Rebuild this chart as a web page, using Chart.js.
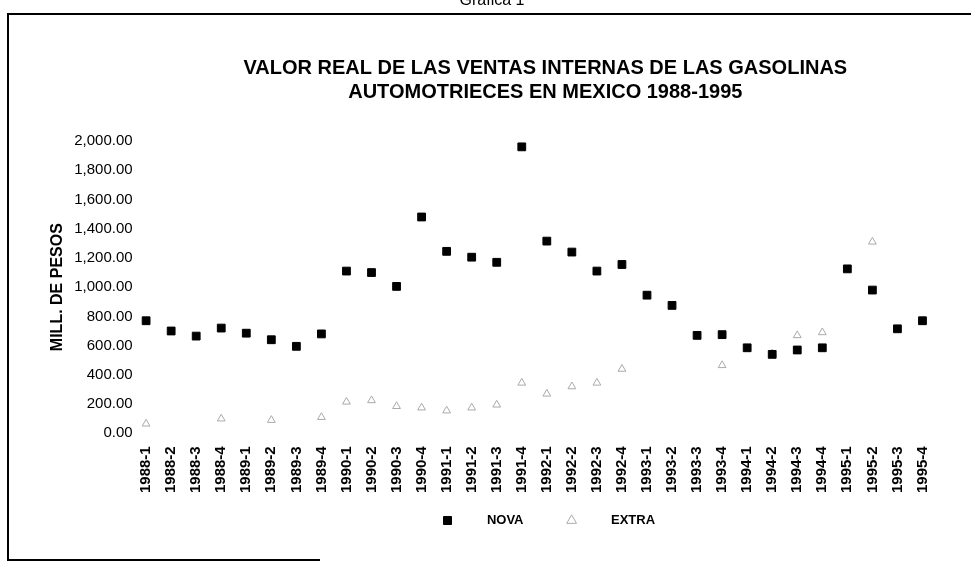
<!DOCTYPE html>
<html>
<head>
<meta charset="utf-8">
<script src="https://cdn.jsdelivr.net/npm/chart.js@4.4.1/dist/chart.umd.min.js"></script>
<style>
  body { margin: 0; background: #fff; }
  #wrap { position: relative; width: 971px; height: 565px; overflow: hidden; font-family: 'Liberation Sans', Arial, sans-serif; }
  #grafica { position: absolute; left: 0; top: 0; }
  #caption { position: absolute; left: 0; width: 984px; top: -9px; text-align: center; font-size: 16px; color: #000; }
  .edge { position: absolute; background: #000; }
</style>
</head>
<body>
<div id="wrap">
  <canvas id="grafica" width="971" height="565"></canvas>
  <div id="caption">Grafica 1</div>
  <div class="edge" style="left:7px;top:13px;width:964px;height:2px"></div>
  <div class="edge" style="left:7px;top:13px;width:2px;height:548px"></div>
  <div class="edge" style="left:7px;top:559px;width:313px;height:2px"></div>
</div>
<script>
// trimestres 1988-1995
const trimestres = [
  '1988-1', '1988-2', '1988-3', '1988-4', '1989-1', '1989-2', '1989-3', '1989-4',
  '1990-1', '1990-2', '1990-3', '1990-4', '1991-1', '1991-2', '1991-3', '1991-4',
  '1992-1', '1992-2', '1992-3', '1992-4', '1993-1', '1993-2', '1993-3', '1993-4',
  '1994-1', '1994-2', '1994-3', '1994-4', '1995-1', '1995-2', '1995-3', '1995-4'
];

// millones de pesos
const nova = [
  770, 700, 665, 720, 685, 640, 595, 680,
  1110, 1100, 1005, 1480, 1245, 1205, 1170, 1960,
  1315, 1240, 1110, 1155, 945, 875, 670, 675,
  585, 540, 570, 585, 1125, 980, 715, 770
];

// los triangulos que no se ven en la copia quedan en null
const extra = [
  65, null, null, 100, null, 90, null, 110,
  215, 225, 185, 175, 155, 175, 195, 345,
  270, 320, 345, 440, null, null, null, 465,
  null, 545, 670, 690, null, 1310, null, null
];

const yTicks = [0, 200, 400, 600, 800, 1000, 1200, 1400, 1600, 1800, 2000];

const titulo = [
  'VALOR REAL DE LAS VENTAS INTERNAS DE LAS GASOLINAS',
  'AUTOMOTRIECES EN MEXICO 1988-1995'
];

const fmt = new Intl.NumberFormat('en-US', { minimumFractionDigits: 2, maximumFractionDigits: 2 });

Chart.defaults.font.family = "'Liberation Sans', Arial, sans-serif";
Chart.defaults.color = '#000';

// mover titulo y leyenda un poco a la derecha, como en el original
const corrimiento = {
  id: 'corrimiento',
  afterLayout(chart) {
    const t = chart.titleBlock;
    if (t) { t.left += 11; t.right += 11; }
    const l = chart.legend;
    if (l) { l.left += 15; l.right += 15; }
  }
};

const ctx = document.getElementById('grafica').getContext('2d');
new Chart(ctx, {
  type: 'line',
  data: {
    labels: trimestres,
    datasets: [
      {
        label: 'NOVA',
        data: nova,
        showLine: false,
        pointStyle: 'rect',
        pointRadius: 5.5,
        pointBackgroundColor: '#000',
        pointBorderColor: '#000',
        pointBorderWidth: 1,
        borderColor: '#000',
        backgroundColor: '#000'
      },
      {
        label: 'EXTRA',
        data: extra,
        showLine: false,
        pointStyle: 'triangle',
        pointRadius: 4.5,
        pointBackgroundColor: 'rgba(0,0,0,0)',
        pointBorderColor: '#aaa',
        pointBorderWidth: 1,
        borderColor: '#aaa',
        backgroundColor: 'rgba(0,0,0,0)'
      }
    ]
  },
  options: {
    responsive: false,
    animation: false,
    layout: {
      padding: { left: 41, right: 36, top: 0, bottom: 28 }
    },
    plugins: {
      title: {
        display: true,
        text: titulo,
        fullSize: false,
        color: '#000',
        font: { size: 20, weight: 'bold', lineHeight: 1.2 },
        padding: { top: 56, bottom: 37 }
      },
      legend: {
        position: 'bottom',
        fullSize: false,
        labels: {
          usePointStyle: true,
          boxWidth: 8,
          boxHeight: 8,
          padding: 8,
          color: '#000',
          font: { size: 13, weight: 'bold' },
          generateLabels(chart) {
            const items = Chart.defaults.plugins.legend.labels.generateLabels(chart);
            items[0].text = '        NOVA          ';
            items[1].text = '        EXTRA';
            return items;
          }
        }
      },
      tooltip: { enabled: false }
    },
    scales: {
      x: {
        offset: true,
        grid: { display: false, drawTicks: false },
        border: { display: false },
        ticks: {
          autoSkip: false,
          minRotation: 90,
          maxRotation: 90,
          padding: 13,
          color: '#000',
          font: { size: 15, weight: 'bold' }
        }
      },
      y: {
        min: 0,
        max: 2000,
        grid: { display: false, drawTicks: false },
        border: { display: false },
        afterBuildTicks(scale) {
          scale.ticks = yTicks.map(v => ({ value: v }));
        },
        ticks: {
          padding: 1,
          color: '#000',
          font: { size: 15 },
          callback: value => fmt.format(value)
        },
        title: {
          display: true,
          text: 'MILL. DE PESOS',
          color: '#000',
          font: { size: 16, weight: 'bold' },
          padding: { top: 7, bottom: 6 }
        }
      }
    }
  },
  plugins: [corrimiento]
});
</script>
</body>
</html>
